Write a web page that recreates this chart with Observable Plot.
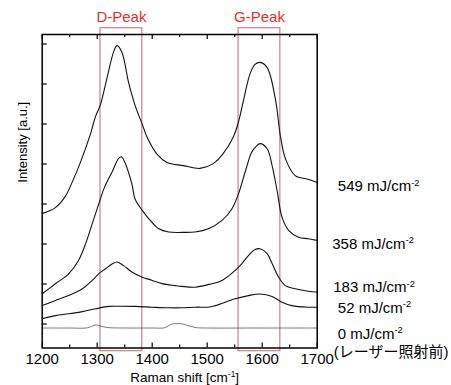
<!DOCTYPE html>
<html><head><meta charset="utf-8">
<script src="https://cdn.jsdelivr.net/npm/d3@7"></script>
<script src="https://cdn.jsdelivr.net/npm/@observablehq/plot@0.6"></script>
<style>body{margin:0;background:#fff;}</style>
</head><body><div id="chart"></div>
<script>
// ---- data ----
const xTicks = [1200, 1300, 1400, 1500, 1600, 1700];
const xMinorTicks = [1250, 1350, 1450, 1550, 1650];
const yTicks = [0.6, 1.6, 2.6, 3.6, 4.6, 5.6, 6.6, 7.6];
const xLabel = "Raman shift [cm^{-1}]";
const yLabel = "Intensity [a.u.]";
const peakNames = ["D-Peak", "G-Peak"];
const peakStart = [1306, 1557];
const peakEnd = [1382, 1633];
const fluenceLabels = ["549 mJ/cm^{-2}", "358 mJ/cm^{-2}", "183 mJ/cm^{-2}", "52 mJ/cm^{-2}", "0 mJ/cm^{-2}"];
const beforeLabel = "(レーザー照射前)";

const curve549 = [[1200,3.36],[1224,3.51],[1242,3.79],[1255,4.16],[1270,4.66],[1288,5.36],[1297,5.79],[1306,6.09],[1318,6.76],[1330,7.41],[1336,7.56],[1345,7.39],[1357,6.64],[1369,6.06],[1382,5.59],[1391,5.26],[1409,4.84],[1427,4.64],[1457,4.56],[1487,4.49],[1511,4.61],[1529,4.86],[1547,5.26],[1556,5.61],[1566,6.19],[1578,6.86],[1587,7.09],[1596,7.14],[1609,7.01],[1624,6.22],[1633,5.31],[1642,4.74],[1660,4.31],[1683,4.22],[1700,4.14]];
const curve358 = [[1200,1.355],[1224,1.605],[1248,1.855],[1266,2.19],[1279,2.61],[1291,3.11],[1303,3.61],[1313,4.01],[1327,4.40],[1339,4.74],[1344,4.78],[1351,4.62],[1363,4.10],[1369,3.72],[1382,3.44],[1394,3.23],[1412,2.98],[1430,2.90],[1454,2.89],[1478,2.90],[1502,2.98],[1527,3.19],[1545,3.48],[1557,3.86],[1569,4.40],[1581,4.90],[1589,5.04],[1596,5.11],[1609,4.98],[1618,4.56],[1627,3.94],[1636,3.27],[1648,2.94],[1666,2.77],[1684,2.73],[1700,2.69]];
const curve183 = [[1200,1.06],[1224,1.19],[1248,1.31],[1273,1.48],[1291,1.69],[1303,1.86],[1315,1.98],[1327,2.10],[1336,2.15],[1348,2.06],[1363,1.90],[1382,1.77],[1400,1.69],[1418,1.61],[1442,1.56],[1454,1.54],[1478,1.52],[1503,1.59],[1527,1.69],[1551,1.94],[1563,2.11],[1575,2.31],[1587,2.46],[1596,2.48],[1609,2.36],[1618,2.11],[1630,1.77],[1642,1.56],[1660,1.48],[1684,1.42],[1700,1.40]];
const curve52 = [[1200,0.73],[1224,0.81],[1248,0.855],[1273,0.91],[1297,0.98],[1321,1.04],[1339,1.045],[1369,1.04],[1400,1.02],[1430,1.005],[1454,1.005],[1478,1.02],[1505,1.025],[1515,1.06],[1551,1.23],[1575,1.31],[1596,1.35],[1618,1.29],[1636,1.145],[1654,1.06],[1684,1.02],[1700,1.02]];
const curve0 = [[1200,0.50],[1250,0.50],[1280,0.50],[1290,0.54],[1298,0.58],[1306,0.55],[1320,0.51],[1350,0.50],[1400,0.50],[1420,0.50],[1425,0.52],[1435,0.595],[1445,0.61],[1455,0.60],[1465,0.56],[1480,0.51],[1500,0.50],[1600,0.50],[1700,0.50]];

// ---- layout / style ----
const W = 451, H = 385;
const mL = 41.7, mR = 134.3, mT = 34, mB = 37.5;
const FW = W - mL - mR, FH = H - mT - mB;
const curves = [curve549, curve358, curve183, curve52, curve0];
const labelOffsets = [[20.6, 4], [15, 3.3], [16, -4.4], [20.6, 0.6], [20.6, 5.8]];
const peaks = peakNames.map((n, i) => ({name: n, x1: peakStart[i], x2: peakEnd[i]}));

const lineMarks = curves.map((c, i) => Plot.line(c, {
  x: d => d[0], y: d => d[1], curve: "catmull-rom",
  stroke: i === 4 ? "#555" : "#111", strokeWidth: i === 4 ? 0.8 : 1.1
}));
const labelMarks = curves.map((c, i) => Plot.text([c[c.length - 1]], {
  x: d => d[0], y: d => d[1], text: () => fluenceLabels[i],
  textAnchor: "start", lineAnchor: "middle", dx: labelOffsets[i][0], dy: labelOffsets[i][1], fontSize: 15
}));

const chart = Plot.plot({
  width: W, height: H,
  marginLeft: mL, marginRight: mR, marginTop: mT, marginBottom: mB,
  x: {domain: [1200, 1700]},
  y: {domain: [0, FH / 40], axis: null},
  style: {fontFamily: "'Liberation Sans', Arial, 'Noto Sans CJK JP', sans-serif", fontSize: "15px", color: "black", background: "white", overflow: "visible"},
  marks: [
    Plot.rect(peaks, {x1: "x1", x2: "x2", insetTop: -6.3, insetBottom: -3.2, fill: "none", stroke: "#c98080", strokeWidth: 1.2}),
    Plot.text(peaks, {x: d => (d.x1 + d.x2) / 2, text: "name", frameAnchor: "top", lineAnchor: "middle", dy: -17.8, fill: "#e0312c", fontSize: 15}),
    ...lineMarks,
    Plot.frame({stroke: "black", strokeWidth: 1.5}),
    Plot.tickX(xTicks, {x: d => d, insetTop: FH - 5, strokeWidth: 1.2}),
    Plot.tickX(xTicks, {x: d => d, insetBottom: FH - 5, strokeWidth: 1.2}),
    Plot.tickX(xMinorTicks, {x: d => d, insetTop: FH - 3, strokeWidth: 1.2}),
    Plot.tickX(xMinorTicks, {x: d => d, insetBottom: FH - 3, strokeWidth: 1.2}),
    Plot.tickY(yTicks, {y: d => d, insetRight: FW - 5, strokeWidth: 1.2}),
    Plot.axisX(xTicks, {tickSize: 0, tickPadding: 5, fontSize: 15, tickFormat: d => String(d), label: null}),
    ...labelMarks,
    Plot.text([curve0[curve0.length - 1]], {x: d => d[0], y: d => d[1], text: () => beforeLabel, textAnchor: "start", lineAnchor: "middle", dx: 16.6, dy: 24.5, fontSize: 15}),
    Plot.text([xLabel], {frameAnchor: "bottom", lineAnchor: "middle", dy: 29.5, dx: 5, fontSize: 13.5, letterSpacing: 0.9}),
    Plot.text([yLabel], {frameAnchor: "left", textAnchor: "middle", lineAnchor: "middle", rotate: -90, dx: -19, dy: -49, fontSize: 13})
  ]
});
document.getElementById("chart").appendChild(chart);

// explicit font sizes and superscripts
d3.select(chart).selectAll("text").each(function() {
  const el = this;
  const t = el.textContent;
  if (/^\d{4}$/.test(t) || /Peak$/.test(t)) el.style.fontSize = "15px";
  const m = t.match(/^(.*)\^\{([^}]*)\}(.*)$/);
  if (!m) return;
  const F = parseFloat(getComputedStyle(el).fontSize) || 15;
  while (el.firstChild) el.removeChild(el.firstChild);
  el.appendChild(document.createTextNode(m[1]));
  const sup = document.createElementNS("http://www.w3.org/2000/svg", "tspan");
  sup.setAttribute("font-size", (F * 0.62).toFixed(2));
  sup.setAttribute("dy", (-F * 0.38).toFixed(2));
  sup.textContent = m[2];
  el.appendChild(sup);
  if (m[3]) {
    const rest = document.createElementNS("http://www.w3.org/2000/svg", "tspan");
    rest.setAttribute("dy", (F * 0.38).toFixed(2));
    rest.textContent = m[3];
    el.appendChild(rest);
  }
});
</script>
</body></html>
